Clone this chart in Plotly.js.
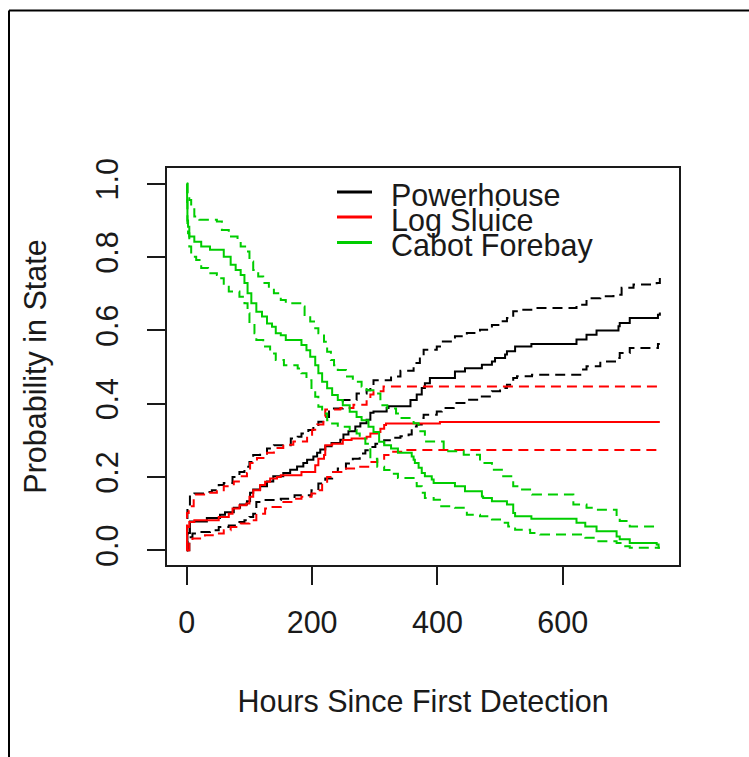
<!DOCTYPE html>
<html>
<head>
<meta charset="utf-8">
<script src="https://cdn.plot.ly/plotly-3.0.1.min.js"></script>
<style>
  html, body { margin: 0; padding: 0; background: #ffffff; }
  #chart { width: 749px; height: 757px; }
</style>
</head>
<body>
<div id="chart"></div>
<script>
// ---------------- data ----------------
const seriesNames = ['Powerhouse', 'Log Sluice', 'Cabot Forebay'];
const seriesColors = ['#000000', '#ff0000', '#00cd00'];
const xTickVals = [0, 200, 400, 600];
const xTickText = ['0', '200', '400', '600'];
const yTickVals = [0, 0.2, 0.4, 0.6, 0.8, 1.0];
const yTickText = ['0.0', '0.2', '0.4', '0.6', '0.8', '1.0'];

// Powerhouse
const phHours = [0,1,5,32,53,61,75,85,96,101,106,117,128,138,154,165,176,186,192,202,208,213,221,231,245,250,258,269,277,287,293,298,319,322,357,367,375,380,388,428,444,471,487,492,508,511,524,550,622,638,654,689,691,707,752,755];
const phProb  = [0,0.047,0.079,0.088,0.097,0.104,0.116,0.125,0.134,0.157,0.166,0.175,0.188,0.202,0.211,0.220,0.229,0.238,0.247,0.256,0.266,0.275,0.284,0.293,0.302,0.316,0.325,0.338,0.347,0.356,0.375,0.379,0.388,0.393,0.410,0.425,0.443,0.456,0.470,0.488,0.497,0.506,0.515,0.525,0.534,0.543,0.556,0.563,0.575,0.588,0.600,0.611,0.620,0.634,0.643,0.649];
const phLoHours = [0,4,9,18,37,51,67,84,92,100,106,111,122,150,172,199,210,221,232,241,254,265,276,285,293,301,315,330,341,354,359,367,375,378,399,407,426,447,468,487,500,511,521,527,551,628,638,660,686,691,707,752,755];
const phLo      = [0,0.036,0.046,0.050,0.055,0.064,0.068,0.077,0.082,0.091,0.100,0.132,0.137,0.141,0.150,0.164,0.182,0.196,0.214,0.223,0.237,0.250,0.264,0.273,0.282,0.291,0.300,0.307,0.311,0.316,0.338,0.343,0.361,0.370,0.379,0.388,0.402,0.411,0.420,0.434,0.443,0.452,0.470,0.475,0.479,0.493,0.502,0.515,0.525,0.538,0.552,0.563,0.563];
const phHiHours = [0,1,5,12,31,40,51,59,73,84,92,100,106,117,128,139,166,177,183,194,202,210,221,227,249,271,287,293,298,326,341,362,364,372,378,399,407,428,447,468,487,500,511,521,532,553,622,638,660,681,694,713,750,755];
const phHi      = [0,0.11,0.150,0.155,0.159,0.164,0.178,0.184,0.200,0.214,0.228,0.241,0.260,0.264,0.278,0.287,0.305,0.310,0.319,0.328,0.342,0.351,0.364,0.387,0.410,0.428,0.437,0.446,0.464,0.474,0.490,0.497,0.511,0.529,0.547,0.556,0.570,0.584,0.593,0.602,0.615,0.625,0.634,0.652,0.656,0.661,0.670,0.688,0.693,0.697,0.716,0.725,0.729,0.743];

// Log Sluice
const lsHours = [0,0.5,4,12,51,67,73,84,95,100,106,117,125,133,144,150,183,205,210,219,221,232,249,263,287,293,304,309,315,318,404,755];
const lsProb  = [0,0.064,0.077,0.082,0.091,0.100,0.114,0.123,0.128,0.146,0.164,0.178,0.187,0.196,0.200,0.205,0.214,0.232,0.250,0.260,0.287,0.291,0.301,0.305,0.310,0.319,0.323,0.332,0.342,0.346,0.350,0.350];
const lsLoHours = [0,4,9,29,48,59,70,86,100,111,125,133,150,172,183,199,205,216,224,232,249,271,293,304,315,326,348,755];
const lsLo      = [0,0.027,0.032,0.041,0.046,0.055,0.064,0.073,0.082,0.100,0.114,0.118,0.132,0.141,0.146,0.155,0.164,0.182,0.200,0.214,0.223,0.228,0.241,0.250,0.260,0.269,0.274,0.274];
const lsHiHours = [0,0.3,3,11,32,48,59,75,85,96,101,112,128,139,154,170,192,200,208,218,221,245,266,287,293,298,314,755];
const lsHi      = [0,0.102,0.120,0.152,0.157,0.161,0.175,0.188,0.202,0.211,0.238,0.252,0.266,0.279,0.288,0.297,0.311,0.329,0.343,0.365,0.384,0.388,0.397,0.411,0.425,0.434,0.447,0.447];

// Cabot Forebay
const cfHours = [0,0.5,1,2,4,12,23,37,59,70,78,86,92,97,103,111,120,128,136,142,150,158,183,191,197,205,210,216,224,232,241,249,260,271,279,290,298,307,315,326,337,359,362,364,370,375,380,391,394,428,444,471,473,487,511,521,524,550,622,636,654,686,691,707,750,753,755];
const cfProb  = [1,0.95,0.90,0.883,0.856,0.842,0.829,0.820,0.801,0.779,0.765,0.751,0.729,0.701,0.674,0.651,0.638,0.619,0.610,0.592,0.587,0.574,0.560,0.546,0.528,0.505,0.483,0.460,0.442,0.424,0.410,0.396,0.378,0.364,0.355,0.337,0.323,0.296,0.287,0.278,0.266,0.256,0.247,0.238,0.225,0.211,0.202,0.193,0.184,0.175,0.161,0.147,0.143,0.134,0.125,0.102,0.093,0.086,0.075,0.065,0.052,0.038,0.030,0.020,0.016,0.007,0.007];
const cfLoHours = [0,1,2,4,7,15,23,34,48,53,59,67,84,92,97,100,108,111,122,133,142,155,177,183,191,199,205,210,216,224,232,241,260,271,276,285,293,304,315,326,337,362,367,375,380,394,404,428,447,468,487,505,513,524,548,564,636,654,686,697,707,755];
const cfLo      = [1,0.893,0.865,0.829,0.801,0.792,0.770,0.756,0.751,0.742,0.719,0.706,0.692,0.674,0.647,0.619,0.592,0.574,0.556,0.537,0.519,0.505,0.496,0.483,0.464,0.437,0.419,0.392,0.373,0.355,0.346,0.337,0.328,0.319,0.305,0.291,0.250,0.228,0.219,0.209,0.197,0.184,0.175,0.157,0.143,0.138,0.120,0.116,0.097,0.093,0.084,0.075,0.065,0.056,0.047,0.043,0.034,0.025,0.020,0.011,0.007,0.007];
const cfHiHours = [0,1,4,7,12,20,48,56,67,81,86,95,100,106,114,122,131,139,150,158,183,188,197,205,210,219,224,230,235,241,254,265,279,287,301,309,320,334,341,362,370,380,410,442,468,487,505,521,532,551,617,638,654,686,691,707,747];
const cfHi      = [1,0.965,0.956,0.938,0.911,0.902,0.897,0.874,0.856,0.842,0.829,0.815,0.788,0.765,0.747,0.729,0.715,0.701,0.683,0.674,0.665,0.642,0.624,0.606,0.592,0.569,0.542,0.519,0.505,0.492,0.474,0.460,0.446,0.437,0.428,0.396,0.387,0.373,0.361,0.347,0.325,0.297,0.270,0.261,0.238,0.220,0.202,0.175,0.166,0.152,0.125,0.116,0.111,0.093,0.080,0.065,0.065];

// ---------------- drawing ----------------
const W = 749, H = 757;
const M = { l: 167, r: 70, t: 168, b: 192 };
const PW = W - M.l - M.r, PH = H - M.t - M.b;
const px2x = px => (px - M.l) / PW;
const py2y = py => (H - M.b - py) / PH;
const FONT = 'Liberation Sans, Arial, Helvetica, sans-serif';
const FS = 30.5;
const INK = '#1a1a1a';
const DASH = '10px,6px';

function stepTrace(x, y, color, dash, name) {
  return { x: x, y: y, type: 'scatter', mode: 'lines', name: name,
           line: { shape: 'hv', color: color, width: 2, dash: dash },
           hoverinfo: 'skip', showlegend: false };
}

const groups = [
  [phHours, phProb, phLoHours, phLo, phHiHours, phHi],
  [lsHours, lsProb, lsLoHours, lsLo, lsHiHours, lsHi],
  [cfHours, cfProb, cfLoHours, cfLo, cfHiHours, cfHi]
];
const traces = [];
groups.forEach((g, i) => {
  traces.push(stepTrace(g[0], g[1], seriesColors[i], 'solid', seriesNames[i]));
  traces.push(stepTrace(g[2], g[3], seriesColors[i], DASH, seriesNames[i] + ' lower'));
  traces.push(stepTrace(g[4], g[5], seriesColors[i], DASH, seriesNames[i] + ' upper'));
});

// manual legend (R-style, tight spacing)
const legendLineY = [192, 217, 242.5];
const shapes = [
  // outer frame (top and left edges of the picture)
  { type: 'line', xref: 'paper', yref: 'paper', x0: px2x(9), x1: px2x(760), y0: py2y(10.5), y1: py2y(10.5), line: { color: '#000', width: 2 } },
  { type: 'line', xref: 'paper', yref: 'paper', x0: px2x(9), x1: px2x(9), y0: py2y(10.5), y1: py2y(770), line: { color: '#000', width: 2 } }
];
const annotations = [];
seriesNames.forEach((name, i) => {
  shapes.push({ type: 'line', xref: 'paper', yref: 'paper',
    x0: px2x(337), x1: px2x(372), y0: py2y(legendLineY[i]), y1: py2y(legendLineY[i]),
    line: { color: seriesColors[i], width: 3 } });
  annotations.push({ xref: 'paper', yref: 'paper', x: px2x(389), y: py2y(legendLineY[i] + 3),
    xanchor: 'left', yanchor: 'middle', showarrow: false, text: name,
    font: { family: FONT, size: FS, color: INK } });
});

const axisCommon = {
  ticks: 'outside', ticklen: 18, tickwidth: 2, tickcolor: INK,
  showline: true, mirror: true, linecolor: INK, linewidth: 2,
  showgrid: false, zeroline: false, fixedrange: true,
  tickfont: { family: FONT, size: FS, color: INK }
};

const layout = {
  width: W, height: H,
  margin: { l: M.l, r: M.r, t: M.t, b: M.b, pad: 0 },
  paper_bgcolor: '#ffffff', plot_bgcolor: '#ffffff',
  font: { family: FONT, size: FS, color: INK },
  showlegend: false,
  xaxis: Object.assign({}, axisCommon, {
    range: [-31.6, 785.6], tickmode: 'array', tickvals: xTickVals, ticktext: xTickText,
    ticklabelstandoff: 11,
    title: { text: 'Hours Since First Detection', standoff: 53, font: { family: FONT, size: FS, color: INK } }
  }),
  yaxis: Object.assign({}, axisCommon, {
    range: [-0.04, 1.043], tickmode: 'array', tickvals: yTickVals, ticktext: yTickText,
    tickangle: -90, ticklabelstandoff: 17,
    title: { text: 'Probability in State', standoff: 34, font: { family: FONT, size: FS, color: INK } }
  }),
  shapes: shapes,
  annotations: annotations
};

Plotly.newPlot('chart', traces, layout, { staticPlot: true, displayModeBar: false });
</script>
</body>
</html>
